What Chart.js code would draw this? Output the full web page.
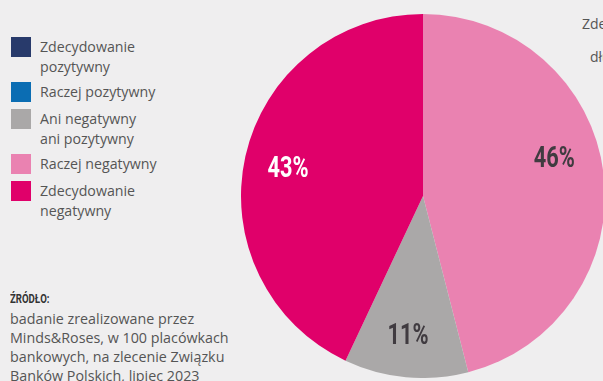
<!DOCTYPE html>
<html>
<head>
<meta charset="utf-8">
<script src="https://cdn.jsdelivr.net/npm/chart.js@4"></script>
<style>
  html, body { margin: 0; padding: 0; }
  body { width: 603px; height: 381px; overflow: hidden; background: #efeeef; position: relative; font-family: "Open Sans", "Noto Sans", sans-serif; color: #555; }
  #legend { position: absolute; left: 11px; top: 37px; white-space: nowrap; }
  .item { position: relative; padding-left: 29px; font-size: 14.2px; line-height: 20px; min-height: 22px; margin-bottom: 5px; }
  .item .sw { position: absolute; left: 0; top: 0; width: 20px; height: 20px; }
  #source { position: absolute; left: 10px; top: 290px; font-size: 14.3px; line-height: 19px; white-space: nowrap; }
  #source b { display: block; height: 19px; line-height: 19px; transform: scaleX(0.8); transform-origin: left center; font-family: Roboto, sans-serif; font-size: 12px; color: #333; }
  #pieBox { position: absolute; left: 241px; top: 14px; width: 364px; height: 364px; }
  .cut { position: absolute; font-size: 14px; line-height: 18px; color: #555; white-space: nowrap; }
</style>
</head>
<body>
<div id="legend"></div>
<div id="source"><b>ŹRÓDŁO:</b>badanie zrealizowane przez<br>Minds&amp;Roses, w 100 placówkach<br>bankowych, na zlecenie Związku<br>Banków Polskich, lipiec 2023</div>
<div class="cut" style="left:582px; top:15px;">Zdecydowanie</div>
<div class="cut" style="left:590px; top:48px;">dług</div>
<div id="pieBox"><canvas id="pie"></canvas></div>
<script>
// legend order as printed on the left
const legendLabels = [
    ["Zdecydowanie", "pozytywny"],
    ["Raczej pozytywny"],
    ["Ani negatywny", "ani pozytywny"],
    ["Raczej negatywny"],
    ["Zdecydowanie", "negatywny"]
];
const legendColors = ["#283a6b", "#0b6db3", "#aaa8a8", "#ea82b1", "#e0006a"];

// pie slices, clockwise from the top
const sliceLabels = ["Raczej negatywny", "Ani negatywny ani pozytywny", "Zdecydowanie negatywny"];
const sliceValues = [46, 11, 43];
const sliceColors = ["#ea82b1", "#aaa8a8", "#e0006a"];
const labelColors = ["#403b40", "#403b40", "#ffffff"];

// build the html legend
var legend = document.getElementById("legend");
for (i = 0; i < legendLabels.length; i++) {
    var div = document.createElement("div");
    div.className = "item";
    div.innerHTML = '<span class="sw" style="background:' + legendColors[i] + '"></span>' + legendLabels[i].join("<br>");
    legend.appendChild(div);
}

// percent labels inside the slices
const pctLabels = {
    id: "pctLabels",
    afterDatasetsDraw(chart) {
        const ctx = chart.ctx;
        const arcs = chart.getDatasetMeta(0).data;
        const shift = [[-6, -22], [-2, 0], [0, 1]]; // the 46% sits higher
        ctx.save();
        ctx.font = "bold 29px Roboto, sans-serif";
        ctx.textAlign = "center";
        ctx.textBaseline = "alphabetic";
        arcs.forEach(function(arc, i) {
            const mid = (arc.startAngle + arc.endAngle) / 2;
            const r = arc.outerRadius * 0.76;
            const x = arc.x + Math.cos(mid) * r + shift[i][0];
            const y = arc.y + Math.sin(mid) * r + shift[i][1];
            ctx.save();
            ctx.translate(x, y + 10.5);
            ctx.scale(0.75, 1); // condensed look
            ctx.fillStyle = labelColors[i];
            ctx.fillText(sliceValues[i] + "%", 0, 0);
            ctx.restore();
        });
        ctx.restore();
    }
};

new Chart(document.getElementById("pie"), {
    type: "pie",
    data: {
        labels: sliceLabels,
        datasets: [{
            data: sliceValues,
            backgroundColor: sliceColors,
            borderWidth: 0
        }]
    },
    options: {
        responsive: true,
        maintainAspectRatio: false,
        animation: false,
        layout: { padding: 0 },
        plugins: {
            legend: { display: false },
            tooltip: { enabled: false }
        }
    },
    plugins: [pctLabels]
});
</script>
</body>
</html>
